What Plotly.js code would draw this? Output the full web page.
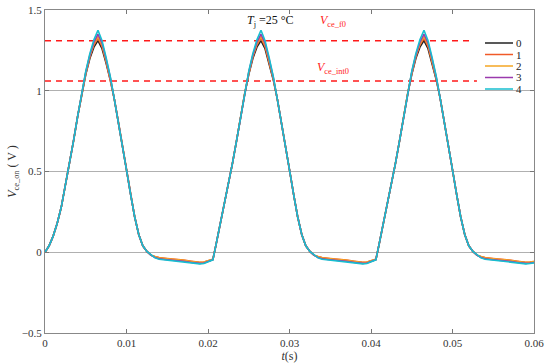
<!DOCTYPE html>
<html>
<head>
<meta charset="utf-8">
<script src="https://cdn.plot.ly/plotly-3.0.1.min.js"></script>
<style>html,body{margin:0;padding:0;background:#fff;}#chart{width:550px;height:364px;}</style>
</head>
<body>
<div id="chart"></div>
<script>
// time (s)
const t = [
  0,0.0005,0.001,0.0015,0.002,0.0025,0.003,0.0035,0.004,0.0045,0.005,0.0055,0.006,0.0065,0.007,0.0075,0.008,0.0085,0.009,0.0095,0.010,0.0105,0.011,0.0115,0.012,0.0125,0.013,0.0135,0.014,0.015,0.016,0.017,0.018,0.019,0.0195,0.020,0.0206,
  0.021,0.0215,0.022,0.0225,0.023,0.0235,0.024,0.0245,0.025,0.0255,0.026,0.0265,0.027,0.0275,0.028,0.0285,0.029,0.0295,0.030,0.0305,0.031,0.0315,0.032,0.0325,0.033,0.0335,0.034,0.035,0.036,0.037,0.038,0.039,0.0395,0.040,0.0406,
  0.041,0.0415,0.042,0.0425,0.043,0.0435,0.044,0.0445,0.045,0.0455,0.046,0.0465,0.047,0.0475,0.048,0.0485,0.049,0.0495,0.050,0.0505,0.051,0.0515,0.052,0.0525,0.053,0.0535,0.054,0.055,0.056,0.057,0.058,0.059,0.0595,0.060
];
// shared segments of the waveform (V)
const riseFirst = [0,0.04,0.10,0.18,0.28,0.41];
const riseNext  = [0.05,0.17,0.29,0.42];
const riseMid   = [0.55,0.69,0.84,0.98];
const fall      = [0.95,0.81,0.66,0.51,0.36,0.22,0.11,0.04,0.005,-0.018];
// per-series peaks
const peak0 = [1.10,1.20,1.27,1.31,1.26,1.17,1.07];
const peak1 = [1.105,1.21,1.285,1.325,1.275,1.18,1.075];
const peak2 = [1.11,1.215,1.29,1.335,1.285,1.185,1.08];
const peak3 = [1.115,1.22,1.30,1.35,1.295,1.195,1.085];
const peak4 = [1.12,1.23,1.315,1.375,1.31,1.205,1.09];
// per-series tails
const tail0 = [-0.030,-0.037,-0.043,-0.047,-0.053,-0.060,-0.066,-0.064,-0.056,-0.045];
const tail1 = [-0.026,-0.033,-0.039,-0.043,-0.049,-0.056,-0.062,-0.060,-0.053,-0.044];
const tail2 = [-0.027,-0.034,-0.040,-0.044,-0.050,-0.057,-0.063,-0.061,-0.054,-0.044];
const tail3 = [-0.032,-0.040,-0.046,-0.050,-0.056,-0.063,-0.069,-0.067,-0.058,-0.046];
const tail4 = [-0.035,-0.043,-0.049,-0.053,-0.059,-0.066,-0.072,-0.070,-0.061,-0.047];
const endVals = [-0.060,-0.057,-0.058,-0.063,-0.066];

const names = ['0','1','2','3','4'];
const colors = ['#222222','#f05a28','#f5a623','#9b3aad','#17becf'];
const peaks = [peak0,peak1,peak2,peak3,peak4];
const tails = [tail0,tail1,tail2,tail3,tail4];

const vceF0 = 1.31, vceF0End = 0.0525;
const vceInt0 = 1.06, vceInt0End = 0.053;

function series(i){
  const p = peaks[i], tl = tails[i];
  return [].concat(
    riseFirst, riseMid, p, fall, tl,
    riseNext, riseMid, p, fall, tl,
    riseNext, riseMid, p, fall, tl.slice(0,8), [endVals[i]]
  );
}

const traces = names.map((n,i)=>({
  x: t, y: series(i), type:'scatter', mode:'lines', name:n,
  line:{color:colors[i], width:1.6}, showlegend:false
}));
traces.unshift({x:[0,vceF0End], y:[vceF0,vceF0], mode:'lines', showlegend:false,
  line:{color:'#ff1a1a', width:1.6, dash:'6px,5px'}});
traces.unshift({x:[0,vceInt0End], y:[vceInt0,vceInt0], mode:'lines', showlegend:false,
  line:{color:'#ff1a1a', width:1.6, dash:'6px,5px'}});

const F = 'Times New Roman, Liberation Serif, DejaVu Serif, serif';
const L = 45, R = 16, T = 10, B = 31, W = 550, H = 364;
const pw = W-L-R, ph = H-T-B;
const px = v => (v-L)/pw, py = v => (H-B-v)/ph;

const shapes = [], annotations = [];
const legY = [43,54.5,66,77.5,89];
names.forEach((n,i)=>{
  shapes.push({type:'line', xref:'paper', yref:'paper', x0:px(485), x1:px(513), y0:py(legY[i]), y1:py(legY[i]),
    line:{color:colors[i], width:1.5}});
  annotations.push({xref:'paper', yref:'paper', x:px(515), y:py(legY[i]), xanchor:'left', yanchor:'middle',
    text:n, showarrow:false, font:{family:F, size:11, color:'#222'}, borderpad:0});
});
annotations.push({xref:'x', yref:'y', x:0.0277, y:1.43, text:'<i>T</i><sub>j</sub> =25 °C', showarrow:false,
  font:{family:F, size:12, color:'#111'}});
annotations.push({xref:'x', yref:'y', x:0.0353, y:1.43, text:'<i>V</i><sub>ce_f0</sub>', showarrow:false,
  font:{family:F, size:12, color:'#ff1a1a'}});
annotations.push({xref:'x', yref:'y', x:0.0353, y:1.14, text:'<i>V</i><sub>ce_int0</sub>', showarrow:false,
  font:{family:F, size:12, color:'#ff1a1a'}});

const layout = {
  width:W, height:H, margin:{l:L, r:R, t:T, b:B, pad:0},
  paper_bgcolor:'#fff', plot_bgcolor:'#fff',
  font:{family:F, size:11, color:'#333'},
  xaxis:{range:[0,0.06], tickvals:[0,0.01,0.02,0.03,0.04,0.05,0.06], ticktext:['0','0.01','0.02','0.03','0.04','0.05','0.06'],
    ticks:'inside', ticklen:4, tickcolor:'#777', showline:true, linecolor:'#888', linewidth:1, mirror:'ticks',
    showgrid:false, zeroline:false, tickfont:{family:F, size:11, color:'#333'},
    title:{text:'<i>t</i>(s)', font:{family:F, size:12, color:'#333'}, standoff:2}},
  yaxis:{range:[-0.5,1.5], tickvals:[-0.5,0,0.5,1,1.5], ticktext:['−0.5','0','0.5','1','1.5'],
    ticks:'inside', ticklen:4, tickcolor:'#777', showline:true, linecolor:'#888', linewidth:1, mirror:'ticks',
    showgrid:true, gridcolor:'#b0b0b0', gridwidth:1, zeroline:false, tickfont:{family:F, size:11, color:'#333'},
    title:{text:'<i>V</i><sub>ce_on</sub> ( V )', font:{family:F, size:12, color:'#333'}, standoff:2}},
  shapes:shapes, annotations:annotations, showlegend:false
};
Plotly.newPlot('chart', traces, layout, {staticPlot:true, displayModeBar:false});
</script>
</body>
</html>
